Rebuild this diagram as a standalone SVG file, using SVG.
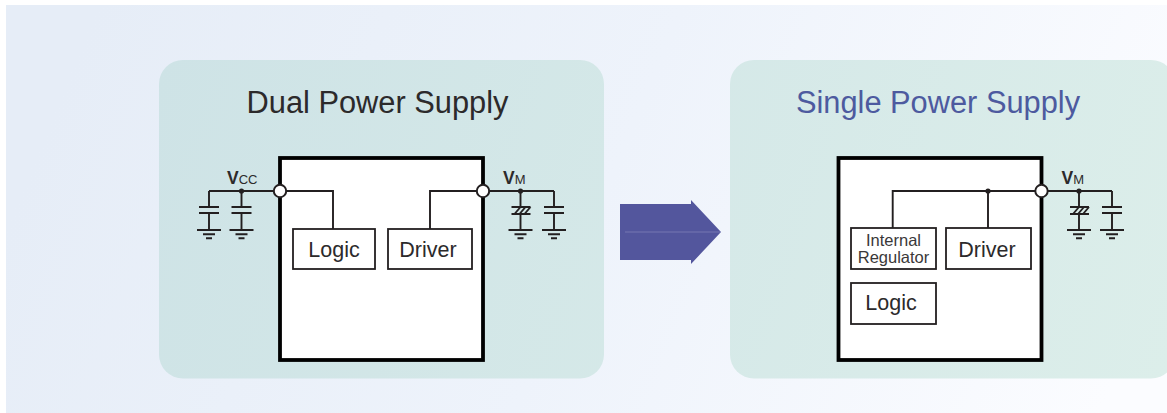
<svg xmlns="http://www.w3.org/2000/svg" width="1167" height="413" viewBox="0 0 1167 413">
<defs>
<linearGradient id="bg" gradientUnits="userSpaceOnUse" x1="100" y1="0" x2="1100" y2="413"><stop offset="0" stop-color="#e6edf7"/><stop offset="0.5" stop-color="#eef3fb"/><stop offset="1" stop-color="#fbfcff"/></linearGradient>
<linearGradient id="panel" gradientUnits="userSpaceOnUse" x1="160" y1="60" x2="1167" y2="378"><stop offset="0" stop-color="#cee3e6"/><stop offset="1" stop-color="#dceeea"/></linearGradient>
<g id="gnd"><path d="M-12 0H12M-6 4.300H6M-3 8.300H3"/></g>
<g id="cap"><path d="M0 0V16M-10 16H10M-10 22H10M0 22V39"/><use href="#gnd" y="39"/></g>
<g id="zener"><path d="M0 0V16M-9 23H10M0 23V39M-9 16H10M-6 23L0 16M-1 23L5 16M4 23L10 16"/><use href="#gnd" y="39"/></g>
</defs>
<style>
.w{fill:none;stroke:#231f20;stroke-width:1.900}
.outer{fill:#fff;stroke:#000;stroke-width:3.800}
.box{fill:#fff;stroke:#231f20;stroke-width:1.800}
.pin{fill:#fff;stroke:#231f20;stroke-width:2}
.dot{fill:#231f20}
text{font-family:"Liberation Sans",Arial,sans-serif;fill:#2c2a2b}
.t{font-size:30.800px;text-anchor:middle}
.l{font-size:21.500px;text-anchor:middle}
.s{font-size:16.500px;text-anchor:middle;fill:#3a3839}
.v{font-size:17.500px;font-weight:bold}
.v2{font-size:13px;font-weight:normal}
</style>
<rect x="6" y="5" width="1161" height="408" fill="url(#bg)"/>
<rect id="panel-left" x="159" y="60" width="445" height="318.500" rx="24" fill="url(#panel)"/>
<rect id="panel-right" x="730" y="60" width="445" height="318.500" rx="24" fill="url(#panel)"/>
<text class="t" x="377.500" y="112.500">Dual Power Supply</text>
<text class="t" x="938" y="112.500" style="fill:#4d5a9f">Single Power Supply</text>

<g id="chip-left"><rect class="outer" x="280" y="158" width="203" height="202"/></g>
<g id="chip-right"><rect class="outer" x="838.500" y="158" width="203" height="202"/></g>

<g id="connectors">
<path class="w" d="M209 191H280M280 191H333V229M430 229V191H483M483 191H554M892.700 228V191H1041.500M988 191V228M1041.500 191H1112"/>
<use class="w" href="#cap" x="209" y="191"/>
<use class="w" href="#cap" x="241.500" y="191"/>
<use class="w" href="#zener" x="520.500" y="191"/>
<use class="w" href="#cap" x="554" y="191"/>
<use class="w" href="#zener" x="1079" y="191"/>
<use class="w" href="#cap" x="1112" y="191"/>
<circle class="dot" cx="241.500" cy="191" r="2.600"/>
<circle class="dot" cx="520.500" cy="191" r="2.600"/>
<circle class="dot" cx="988" cy="191" r="2.600"/>
<circle class="dot" cx="1079" cy="191" r="2.600"/>
</g>

<g id="pin-vcc"><circle class="pin" cx="280" cy="191" r="6.200"/><text class="v" x="227" y="184">V<tspan class="v2">CC</tspan></text></g>
<g id="pin-vm-left"><circle class="pin" cx="483" cy="191" r="6.200"/><text class="v" x="503" y="184">V<tspan class="v2">M</tspan></text></g>
<g id="pin-vm-right"><circle class="pin" cx="1041.500" cy="191" r="6.200"/><text class="v" x="1061.500" y="184">V<tspan class="v2">M</tspan></text></g>

<g id="logic-left"><rect class="box" x="293" y="229" width="82" height="40"/><text class="l" x="334" y="257">Logic</text></g>
<g id="driver-left"><rect class="box" x="388" y="229" width="84" height="40"/><text class="l" x="428" y="257">Driver</text></g>
<g id="regulator"><rect class="box" x="851" y="228" width="85" height="41"/><text class="s" x="893.500" y="245.500">Internal</text><text class="s" x="893.500" y="262.500">Regulator</text></g>
<g id="driver-right"><rect class="box" x="946" y="228" width="85" height="41"/><text class="l" x="987" y="257">Driver</text></g>
<g id="logic-right"><rect class="box" x="851" y="283" width="85" height="41"/><text class="l" x="891" y="310">Logic</text></g>

<g id="arrow"><polygon points="620,204 691,204 691,200 721,232 691,264 691,260 620,260" fill="#53569d"/><path d="M625 232H720" stroke="#6a6dab" stroke-width="1.500"/></g>
</svg>
